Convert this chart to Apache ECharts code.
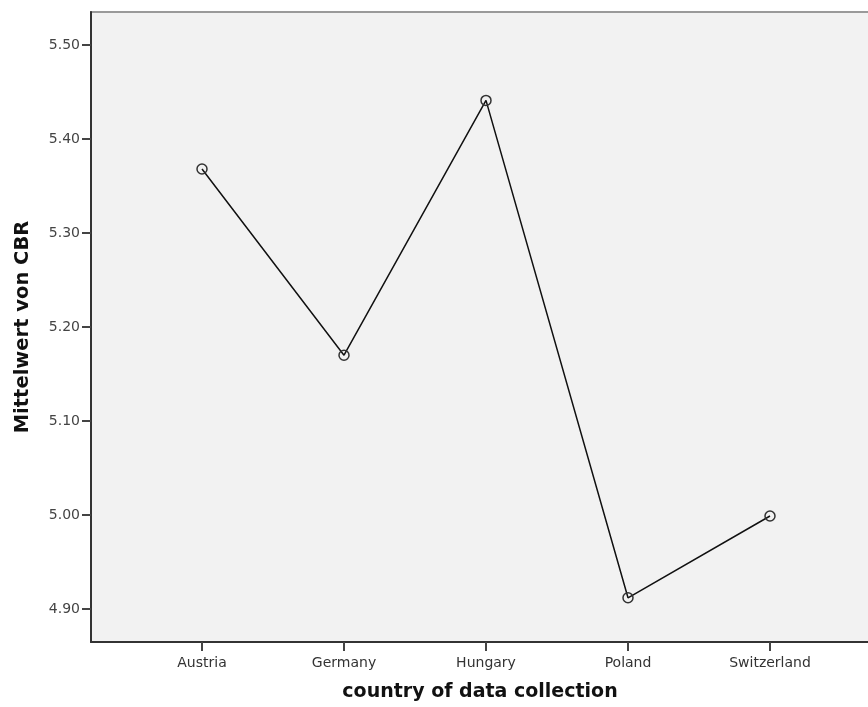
<!DOCTYPE html>
<html>
<head>
<meta charset="utf-8">
<script src="https://cdn.jsdelivr.net/npm/echarts@6/dist/echarts.min.js"></script>
<style>
  html, body { margin: 0; padding: 0; background: #fff; }
  #chart { width: 868px; height: 707px; }
</style>
</head>
<body>
<div id="chart"></div>
<script>
// countries and their mean CBR
var countries = ['Austria', 'Germany', 'Hungary', 'Poland', 'Switzerland'];
var meanCBR = [5.368, 5.170, 5.441, 4.912, 4.999];
var yTicks = [4.90, 5.00, 5.10, 5.20, 5.30, 5.40, 5.50];
var xTicks = [1, 2, 3, 4, 5];

var font = 'DejaVu Sans';
var chart = echarts.init(document.getElementById('chart'));

var pts = meanCBR.map(function (v, i) { return [i + 1, v]; });

var option = {
  animation: false,
  grid: {
    left: 91,
    top: 12,
    width: 788,
    height: 630,
    outerBoundsMode: 'none',
    containLabel: false,
    show: true,
    backgroundColor: '#f2f2f2',
    borderColor: '#9a9a9a',
    borderWidth: 2
  },
  xAxis: {
    type: 'value',
    min: 0.2183,
    max: 5.7676,
    name: 'country of data collection',
    nameLocation: 'middle',
    nameGap: 41,
    nameTextStyle: { fontFamily: font, fontSize: 19, fontWeight: 'bold', color: '#111', padding: [0, 10, 0, 0] },
    axisLine: { show: true, onZero: false, lineStyle: { color: '#333', width: 2 } },
    axisTick: { show: true, length: 9, customValues: xTicks, lineStyle: { color: '#444', width: 2 } },
    axisLabel: {
      customValues: xTicks,
      margin: 14,
      fontFamily: font, fontSize: 14, color: '#333',
      formatter: function (v) { return countries[Math.round(v) - 1]; }
    },
    splitLine: { show: false }
  },
  yAxis: {
    type: 'value',
    min: 4.865,
    max: 5.535,
    name: 'Mittelwert von CBR',
    nameLocation: 'middle',
    nameGap: 58,
    nameTextStyle: { fontFamily: font, fontSize: 19.5, fontWeight: 'bold', color: '#111' },
    axisLine: { show: true, onZero: false, lineStyle: { color: '#333', width: 2 } },
    axisTick: { show: true, length: 9, customValues: yTicks, lineStyle: { color: '#444', width: 2 } },
    axisLabel: {
      customValues: yTicks,
      margin: 11,
      fontFamily: font, fontSize: 14, color: '#444',
      formatter: function (v) { return v.toFixed(2); }
    },
    splitLine: { show: false }
  },
  series: [{
    type: 'line',
    data: pts,
    symbol: 'circle',
    symbolSize: 10,
    itemStyle: { color: 'rgba(0,0,0,0)', borderColor: '#333', borderWidth: 1.5 },
    lineStyle: { color: '#111', width: 1.5 }
  }]
};

chart.setOption(option);
</script>
</body>
</html>
